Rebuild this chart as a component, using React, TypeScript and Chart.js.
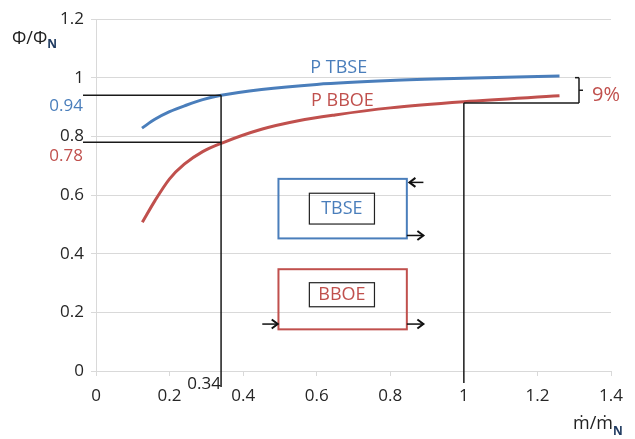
import React, { useEffect, useRef } from "react";
import { Chart, registerables } from "chart.js";

Chart.register(...registerables);

// ---- data ----
const tbseX = [0.125, 0.16, 0.2, 0.245, 0.29, 0.34, 0.45, 0.6, 0.8, 1.0, 1.26];
const tbseY = [0.828, 0.858, 0.884, 0.906, 0.925, 0.94, 0.96, 0.977, 0.99, 0.998, 1.006];
const bboeX = [0.126, 0.16, 0.2, 0.24, 0.29, 0.344, 0.45, 0.55, 0.65, 0.8, 1.0, 1.26];
const bboeY = [0.507, 0.58, 0.655, 0.705, 0.748, 0.778, 0.824, 0.853, 0.873, 0.897, 0.918, 0.938];

const xTickMin = 0;
const xTickMax = 1.4;
const xTickStep = 0.2;
const yTickMin = 0;
const yTickMax = 1.2;
const yTickStep = 0.2;

// reference markers
const markX = 0.34;
const markTBSE = 0.94;
const markBBOE = 0.78;
const nominalX = 1;
const nominalTBSE = 1.0;
const nominalBBOE = 0.914;
const diffLabel = "9%";

const BLUE = "#4a7ebb";
const RED = "#c0504d";
const FONT = "'Open Sans', 'DejaVu Sans', sans-serif";

const fmt = (v: any) => String(+Number(v).toFixed(2));

const annotations = {
  id: "annotations",
  afterDraw(chart: any) {
    const { ctx } = chart;
    const xs = chart.scales.x;
    const ys = chart.scales.y;
    const X = (v: number) => xs.getPixelForValue(v);
    const Y = (v: number) => ys.getPixelForValue(v);
    const left = chart.chartArea.left;
    const bottom = chart.chartArea.bottom;

    const line = (x1: number, y1: number, x2: number, y2: number) => {
      ctx.beginPath();
      ctx.moveTo(x1, y1);
      ctx.lineTo(x2, y2);
      ctx.stroke();
    };
    const text = (t: string, x: number, y: number, color: string, size: number, align: CanvasTextAlign = "center") => {
      ctx.fillStyle = color;
      ctx.font = `${size}px ${FONT}`;
      ctx.textAlign = align;
      ctx.textBaseline = "middle";
      ctx.fillText(t, x, y);
    };
    const arrow = (x1: number, y1: number, x2: number, y2: number) => {
      ctx.strokeStyle = "#111";
      ctx.lineWidth = 1.5;
      line(x1, y1, x2, y2);
      const dir = Math.sign(x2 - x1);
      ctx.lineWidth = 2;
      ctx.beginPath();
      ctx.moveTo(x2 - dir * 6, y2 - 4.5);
      ctx.lineTo(x2, y2);
      ctx.lineTo(x2 - dir * 6, y2 + 4.5);
      ctx.stroke();
    };

    ctx.save();
    // reference lines
    ctx.strokeStyle = "#1a1a1a";
    ctx.lineWidth = 1.5;
    line(left - 13, Y(markTBSE), X(markX), Y(markTBSE));
    line(left - 13, Y(markBBOE), X(markX), Y(markBBOE));
    line(X(markX), Y(markTBSE), X(markX), bottom + 16);
    line(X(nominalX), Y(nominalBBOE), X(nominalX), bottom + 12);
    // bracket
    const bx = X(1.313);
    line(X(nominalX), Y(nominalBBOE), bx, Y(nominalBBOE));
    line(bx - 4, Y(nominalTBSE), bx, Y(nominalTBSE));
    line(bx, Y(nominalTBSE), bx, Y(nominalBBOE));
    line(bx, (Y(nominalTBSE) + Y(nominalBBOE)) / 2, bx + 4, (Y(nominalTBSE) + Y(nominalBBOE)) / 2);

    // labels
    text(fmt(markTBSE), left - 13, Y(markTBSE) + 11, BLUE, 17, "right");
    text(fmt(markBBOE), left - 13, Y(markBBOE) + 14, RED, 17, "right");
    text(fmt(markX), X(markX) - 17, bottom + 13, "#222", 17, "center");
    text(diffLabel, bx + 27, (Y(nominalTBSE) + Y(nominalBBOE)) / 2 + 5, RED, 20, "center");
    text("P TBSE", X(0.66), Y(1.035), BLUE, 18, "center");
    text("P BBOE", X(0.67), Y(0.92), RED, 18, "center");

    // boxes
    const box = (x1: number, y1: number, x2: number, y2: number, color: string, w: number) => {
      ctx.strokeStyle = color;
      ctx.lineWidth = w;
      ctx.strokeRect(X(x1), Y(y1), X(x2) - X(x1), Y(y2) - Y(y1));
    };
    box(0.496, 0.655, 0.845, 0.452, BLUE, 2);
    box(0.58, 0.606, 0.757, 0.501, "#222", 1.2);
    text("TBSE", (X(0.58) + X(0.757)) / 2, (Y(0.606) + Y(0.501)) / 2, BLUE, 18);
    box(0.496, 0.347, 0.845, 0.142, RED, 2);
    box(0.58, 0.301, 0.757, 0.219, "#222", 1.2);
    text("BBOE", (X(0.58) + X(0.757)) / 2, (Y(0.301) + Y(0.219)) / 2, RED, 18);

    // arrows
    arrow(X(0.89), Y(0.643), X(0.852), Y(0.643));
    arrow(X(0.845), Y(0.462), X(0.89), Y(0.462));
    arrow(X(0.452), Y(0.16), X(0.494), Y(0.16));
    arrow(X(0.845), Y(0.16), X(0.89), Y(0.16));

    // axis titles
    ctx.fillStyle = "#222";
    ctx.textAlign = "left";
    ctx.textBaseline = "alphabetic";
    ctx.font = `18px ${FONT}`;
    ctx.fillText("Φ/Φ", 12, 44);
    const w1 = ctx.measureText("Φ/Φ").width;
    ctx.fillStyle = "#1f3a60";
    ctx.font = `bold 12px ${FONT}`;
    ctx.fillText("N", 12 + w1, 48);

    ctx.fillStyle = "#222";
    ctx.font = `18px ${FONT}`;
    ctx.fillText("ṁ/ṁ", 573, 429);
    const w2 = ctx.measureText("ṁ/ṁ").width;
    ctx.fillStyle = "#1f3a60";
    ctx.font = `bold 12px ${FONT}`;
    ctx.fillText("N", 573 + w2, 435);
    ctx.restore();
  },
};

export default function App() {
  const ref = useRef<HTMLCanvasElement | null>(null);
  useEffect(() => {
    if (!ref.current) return;
    const chart = new Chart(ref.current, {
      type: "scatter",
      data: {
        datasets: [
          {
            label: "P TBSE",
            data: tbseX.map((x, i) => ({ x, y: tbseY[i] })),
            showLine: true,
            borderColor: BLUE,
            borderWidth: 3,
            pointRadius: 0,
            cubicInterpolationMode: "monotone",
          },
          {
            label: "P BBOE",
            data: bboeX.map((x, i) => ({ x, y: bboeY[i] })),
            showLine: true,
            borderColor: RED,
            borderWidth: 3,
            pointRadius: 0,
            cubicInterpolationMode: "monotone",
          },
        ],
      },
      options: {
        responsive: false,
        animation: false,
        layout: { padding: { top: 19, right: 24, bottom: 0, left: 0 } },
        plugins: { legend: { display: false }, tooltip: { enabled: false } },
        scales: {
          x: {
            type: "linear",
            min: xTickMin,
            max: xTickMax,
            afterFit: (s: any) => {
              s.height = 68;
            },
            ticks: {
              stepSize: xTickStep,
              autoSkip: false,
              maxRotation: 0,
              padding: 10,
              color: "#262626",
              font: { family: FONT, size: 17 },
              callback: (v: any) => fmt(v),
            },
            grid: { drawOnChartArea: false, drawTicks: true, tickLength: 5, color: "#d9d9d9" },
            border: { color: "#d9d9d9" },
          },
          y: {
            type: "linear",
            min: yTickMin,
            max: yTickMax,
            afterFit: (s: any) => {
              s.width = 96;
            },
            ticks: {
              stepSize: yTickStep,
              padding: 7,
              color: "#262626",
              font: { family: FONT, size: 17 },
              callback: (v: any) => fmt(v),
            },
            grid: { color: "#d9d9d9", tickLength: 5 },
            border: { color: "#d9d9d9" },
          },
        },
      },
      plugins: [annotations],
    });
    return () => chart.destroy();
  }, []);
  return (
    <div style={{ position: "absolute", left: 0, top: 0, width: 635, height: 439, background: "#fff" }}>
      <canvas ref={ref} width={635} height={439} style={{ display: "block" }} />
    </div>
  );
}
